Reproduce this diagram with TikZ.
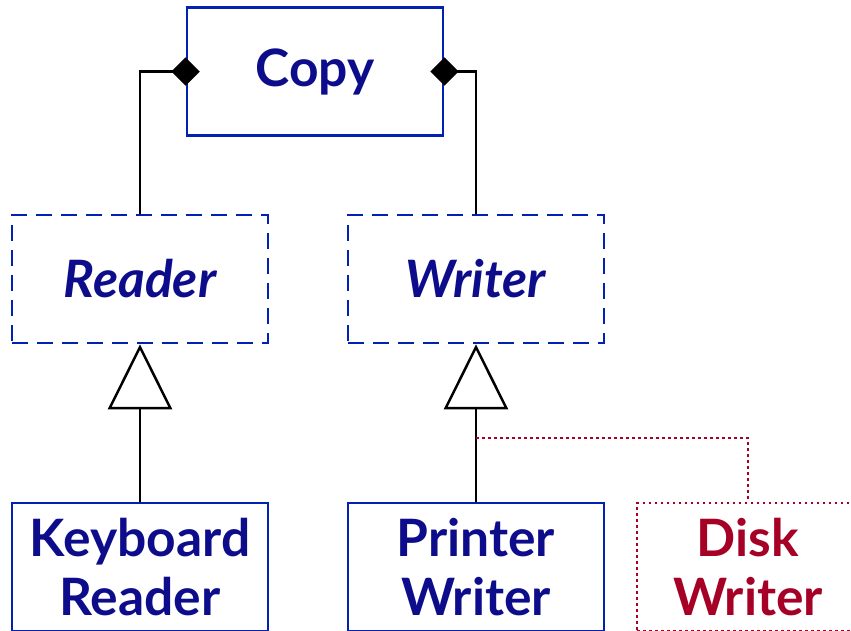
\documentclass[tikz,border=0pt]{standalone}
\usepackage{fontspec}
\setmainfont{Lato}
\usetikzlibrary{arrows.meta}

\newlength{\du}
\setlength{\du}{0.03cm}

\definecolor{classline}{rgb}{0.000000, 0.130000, 0.700000}
\definecolor{classtext}{rgb}{0.050000, 0.050000, 0.550000}
\definecolor{extline}{rgb}{0.650000, 0.000000, 0.150000}

\tikzset{
  classbox/.style={draw=classline, line width=2.5\du, minimum width=256\du,
    minimum height=128\du, inner sep=0pt, align=center, text=classtext,
    font=\fontsize{44}{51}\selectfont\bfseries},
  abstractbox/.style={classbox, dash pattern=on 16\du off 9\du,
    font=\fontsize{44}{51}\selectfont\bfseries\itshape},
  extbox/.style={classbox, draw=extline, text=extline, minimum width=222\du,
    dash pattern=on 2.5\du off 3.5\du},
  composes/.style={line width=2.5\du, -{Diamond[length=0.85cm, width=0.85cm]},
    shorten >=-0.42cm},
  inherits/.style={line width=2.5\du,
    -{Triangle[open, fill=white, length=1.95cm, width=1.92cm]}},
  extends/.style={draw=extline, line width=2.5\du, dash pattern=on 2.5\du off 3.5\du}
}

\begin{document}
\begin{tikzpicture}
\pgftransformyscale{-1.000000}
\useasboundingbox (0\du,0\du) rectangle (851\du,630\du);
\clip (0\du,0\du) rectangle (851\du,630\du);
% classes
\node[classbox] (copy) at (315\du,71.5\du) {\raisebox{-4\du}{Copy}};
\node[abstractbox] (reader) at (140\du,279\du) {Reader};
\node[abstractbox] (writer) at (476\du,279\du) {Writer};
\node[classbox] (kbreader) at (140\du,567\du) {Keyboard\\Reader};
\node[classbox] (prwriter) at (476\du,567\du) {Printer\\Writer};
\node[extbox] (dkwriter) at (748\du,567\du) {Disk\\Writer};
% composition
\draw[composes] (reader.north) |- (copy.west);
\draw[composes] (writer.north) |- (copy.east);
% inheritance
\draw[inherits] (kbreader.north) -- (reader.south);
\draw[inherits] (prwriter.north) -- (writer.south);
\coordinate (branch) at (476\du,438\du);
\draw[extends] (branch) -| (dkwriter.north);
\end{tikzpicture}
\end{document}
